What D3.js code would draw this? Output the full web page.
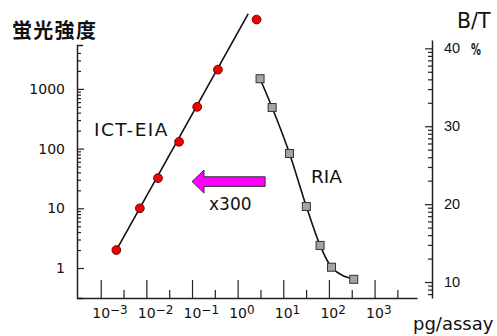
<!DOCTYPE html>
<html>
<head>
<meta charset="utf-8">
<script src="https://cdn.jsdelivr.net/npm/d3@7"></script>
<style>
  html, body { margin: 0; padding: 0; background: #fff; }
  svg { display: block; }
  text { fill: #111; }
</style>
</head>
<body>
<svg id="chart" width="497" height="336"></svg>
<script>
// ICT-EIA: fluorescence intensity against amount (pg/assay)
const eiaDose   = [0.0022, 0.0072, 0.018, 0.052, 0.13, 0.37, 2.6];
const eiaSignal = [2, 10, 32, 130, 500, 2100, 14500];
// straight fitted line for ICT-EIA (start and end)
const eiaFitDose   = [0.0022, 1.7];
const eiaFitSignal = [2, 18000];

// RIA: bound / total (%) against amount (pg/assay)
const riaDose = [3.1, 5.7, 13.7, 32, 64, 114, 350];
const riaBT   = [36.1, 32.4, 26.5, 19.7, 14.7, 11.9, 10.35];

// axis ticks
const xDecades     = [-3, -2, -1, 0, 1, 2, 3];
const xHalfDecades = [-2.5, -1.5, -0.5, 0.5, 1.5, 2.5, 3.5];
const leftTicks    = [1, 10, 100, 1000];
const rightTicks   = [10, 20, 30, 40];

// shift annotation (amount range of the arrow, signal level)
const shiftFrom = 4.0, shiftTo = 0.1, shiftLevel = 28;

const svg = d3.select("#chart");
const AX = "#222";

const x  = d3.scaleLog().domain([10 ** -3.52, 10 ** 3.93]).range([77, 417]);
const yL = d3.scaleLog().domain([10 ** -0.5025, 10 ** 3.735]).range([298, 45]);
const yR = d3.scaleLinear().domain([7.95, 41.07]).range([298, 40]);

function styleAxis(g) {
  g.selectAll("path.domain").attr("stroke", AX).attr("stroke-width", 1.5);
  g.selectAll(".tick line").attr("stroke", AX).attr("stroke-width", 1.2);
}

// ---- left axis (log) ----
const leftMinor = [];
for (let d = 0; d <= 3; d++) for (let k = 2; k <= 9; k++) {
  const v = k * 10 ** d;
  if (v < 5000) leftMinor.push(v);
}
svg.append("g").attr("transform", "translate(77,0)")
  .call(d3.axisLeft(yL).tickValues(leftMinor).tickSizeInner(-4).tickSizeOuter(-6).tickFormat(""))
  .call(styleAxis);
svg.append("g").attr("transform", "translate(77,0)")
  .call(d3.axisLeft(yL).tickValues(leftTicks).tickSizeInner(-7).tickSizeOuter(0)
    .tickPadding(12).tickFormat(d3.format("d")))
  .call(g => g.select("path.domain").remove())
  .call(styleAxis)
  .call(g => g.selectAll("text").attr("font-family", "DejaVu Sans").attr("font-size", 14).attr("fill", "#111"));

// ---- right axis (linear) ----
const rightMinor = [];
rightTicks.forEach(m => {
  for (let k = 9; k >= 2; k--) {
    const v = m - 10 * (1 - Math.log10(k));
    if (v > yR.domain()[0]) rightMinor.push(v);
  }
});
svg.append("g").attr("transform", "translate(432,0)")
  .call(d3.axisRight(yR).tickValues(rightMinor).tickSizeInner(-4).tickSizeOuter(0).tickFormat(""))
  .call(styleAxis);
svg.append("g").attr("transform", "translate(432,0)")
  .call(d3.axisRight(yR).tickValues(rightTicks).tickSizeInner(-7).tickSizeOuter(0)
    .tickPadding(12).tickFormat(d3.format("d")))
  .call(g => g.select("path.domain").remove())
  .call(styleAxis)
  .call(g => g.selectAll("text").attr("font-family", "Liberation Sans, Arial, sans-serif").attr("font-size", 14.5).attr("fill", "#111"));

// ---- bottom axis (log) ----
svg.append("g").attr("transform", "translate(0,298)")
  .call(d3.axisBottom(x).tickValues(xHalfDecades.map(e => 10 ** e)).tickSizeInner(-8).tickSizeOuter(0).tickFormat(""))
  .call(g => g.select("path.domain").remove())
  .call(styleAxis);
const xAx = svg.append("g").attr("transform", "translate(0,298)")
  .call(d3.axisBottom(x).tickValues(xDecades.map(e => 10 ** e)).tickSizeInner(-18).tickSizeOuter(0).tickFormat(""))
  .call(styleAxis);
xAx.selectAll(".tick").each(function(d) {
  const e = Math.round(Math.log10(d));
  const t = d3.select(this).append("text")
    .attr("y", 19.5).attr("font-family", "DejaVu Sans").attr("fill", "#111").attr("text-anchor", "start");
  t.append("tspan").attr("font-size", 14).text("10");
  t.append("tspan").attr("font-size", 12).attr("dy", -4).text(e < 0 ? "\u2212" + (-e) : String(e));
  t.attr("x", -9);
});

// ---- ICT-EIA ----
const fit = eiaFitDose.map((d, i) => ({ dose: d, v: eiaFitSignal[i] }));
svg.append("path").datum(fit)
  .attr("fill", "none").attr("stroke", "#111").attr("stroke-width", 1.6)
  .attr("d", d3.line().x(d => x(d.dose)).y(d => yL(d.v)));
svg.append("g").selectAll("circle")
  .data(eiaDose.map((d, i) => ({ dose: d, v: eiaSignal[i] })))
  .join("circle")
  .attr("cx", d => x(d.dose)).attr("cy", d => yL(d.v)).attr("r", 4.4)
  .attr("fill", "#f00000").attr("stroke", "#5a0000").attr("stroke-width", 0.9);

// ---- RIA ----
const ria = riaDose.map((d, i) => ({ dose: d, v: riaBT[i] }));
svg.append("path").datum(ria)
  .attr("fill", "none").attr("stroke", "#111").attr("stroke-width", 1.6)
  .attr("d", d3.line().x(d => x(d.dose)).y(d => yR(d.v)).curve(d3.curveMonotoneX));
svg.append("g").selectAll("rect")
  .data(ria).join("rect")
  .attr("x", d => x(d.dose) - 4).attr("y", d => yR(d.v) - 4)
  .attr("width", 8).attr("height", 8)
  .attr("fill", "#a4a4a4").attr("stroke", "#333").attr("stroke-width", 1);

// ---- shift arrow ----
{
  const x0 = x(shiftFrom), x1 = x(shiftTo), yc = yL(shiftLevel);
  const hb = 4.8, hh = 11.5, hl = 12;
  const pts = [
    [x1, yc], [x1 + hl, yc - hh], [x1 + hl, yc - hb], [x0, yc - hb],
    [x0, yc + hb], [x1 + hl, yc + hb], [x1 + hl, yc + hh]
  ];
  svg.append("polygon").attr("points", pts.map(p => p.join(",")).join(" "))
    .attr("fill", "#ff00ff").attr("stroke", "#333").attr("stroke-width", 1);
}

// ---- texts ----
svg.append("text").attr("x", 12).attr("y", 38)
  .attr("font-family", "Noto Sans CJK JP").attr("font-weight", 700).attr("font-size", 20)
  .attr("letter-spacing", 1.3).text("蛍光強度");
svg.append("text").attr("x", 457).attr("y", 28)
  .attr("font-family", "DejaVu Sans").attr("font-size", 20.5).text("B/T");
svg.append("text").attr("x", 471).attr("y", 55)
  .attr("font-family", "DejaVu Sans").attr("font-weight", 700).attr("font-size", 16.5)
  .attr("transform", "translate(471,0) scale(0.6,1) translate(-471,0)").text("%");
svg.append("text").attr("x", 94).attr("y", 136)
  .attr("font-family", "DejaVu Sans").attr("font-size", 18.5).attr("letter-spacing", 1.5).text("ICT-EIA");
svg.append("text").attr("x", 311).attr("y", 183)
  .attr("font-family", "DejaVu Sans").attr("font-size", 18.5).text("RIA");
svg.append("text").attr("x", 209).attr("y", 210)
  .attr("font-family", "DejaVu Sans").attr("font-size", 17).text("x300");
svg.append("text").attr("x", 413).attr("y", 330)
  .attr("font-family", "DejaVu Sans").attr("font-size", 18).text("pg/assay");
</script>
</body>
</html>
